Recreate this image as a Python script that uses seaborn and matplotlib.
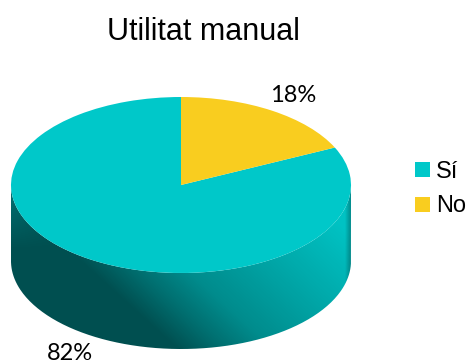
import numpy as np
import matplotlib
matplotlib.use("Agg")
import matplotlib.pyplot as plt
from matplotlib.path import Path
from matplotlib.patches import PathPatch
import seaborn as sns

# Data
title = "Utilitat manual"
categories = ["Sí", "No"]
values = [82, 18]
value_labels = ["82%", "18%"]
colors = ["#00C8C9", "#F9CD1F"]

W, H = 468, 363
CX, CY, RX, RY, DEPTH = 181, 185, 170, 88, 76

sns.set_theme(style="white")
plt.rcParams["font.family"] = ["Liberation Sans", "DejaVu Sans"]

fig = plt.figure(figsize=(W / 100, H / 100), dpi=100)
ax = fig.add_axes([0, 0, 1, 1])

wedges, _ = ax.pie(values, colors=colors, startangle=90, counterclock=True,
                   radius=1, center=(0, 0), frame=False)
for w in wedges:
    w.set_zorder(3)
    w.set_linewidth(0)

ax.set_aspect("auto")
xlim = (-CX / RX, (W - CX) / RX)
ylim = ((CY - H) / RY, CY / RY)

# Side of the cylinder: shaded image clipped to the drum outline
d = DEPTH / RY
th = np.linspace(np.pi, 2 * np.pi, 200)
xs = np.cos(th)
ys = np.sin(th)
verts = np.vstack([np.column_stack([xs, ys]),
                   np.column_stack([xs[::-1], ys[::-1] - d]),
                   [[xs[0], ys[0]]]])
outline = Path(verts)

px, py = np.meshgrid(np.arange(W) + 0.5, np.arange(H) + 0.5)
s = 0.67 * (px - 75) - 0.74 * (py - 250)
t = np.interp(s, [-40, -5, 25, 60, 121, 196], [0.0, 0.0, 0.25, 0.5, 0.71, 0.95])
t += np.clip((80 - px) / 68, 0, 1) * 0.28 * np.clip((250 - py) / 60, 0, 1)
t *= 1 - 0.5 * np.clip((px - 345) / 6, 0, 1)
cmap = sns.blend_palette(["#004F50", "#00C8C9"], as_cmap=True)
img = ax.imshow(t, cmap=cmap, vmin=0, vmax=1, aspect="auto", zorder=2,
                extent=(xlim[0], xlim[1], ylim[0], ylim[1]), origin="upper",
                interpolation="bilinear")
clip = PathPatch(outline, transform=ax.transData, facecolor="none", edgecolor="none")
ax.add_patch(clip)
img.set_clip_path(clip)

ax.set_xlim(*xlim)
ax.set_ylim(*ylim)
ax.axis("off")

label_font = dict(family=["Lato", "Liberation Sans"], fontsize=17,
                  color="black", ha="center", va="center", transform=ax.transAxes)
ax.text(70 / W, 1 - 353 / H, value_labels[0], **label_font)
ax.text(293 / W, 1 - 95 / H, value_labels[1], **label_font)

ax.text(203 / W, 1 - 32 / H, title, fontsize=22, color="black",
        ha="center", va="center", transform=ax.transAxes)

ax.legend(wedges, categories, loc="center left",
          bbox_to_anchor=(415 / W, 1 - 189 / H), frameon=False, fontsize=17,
          handlelength=0.62, handleheight=0.62, handletextpad=0.28,
          labelspacing=0.55, borderpad=0, borderaxespad=0, labelcolor="black")

fig.savefig("out.png", dpi=100)
